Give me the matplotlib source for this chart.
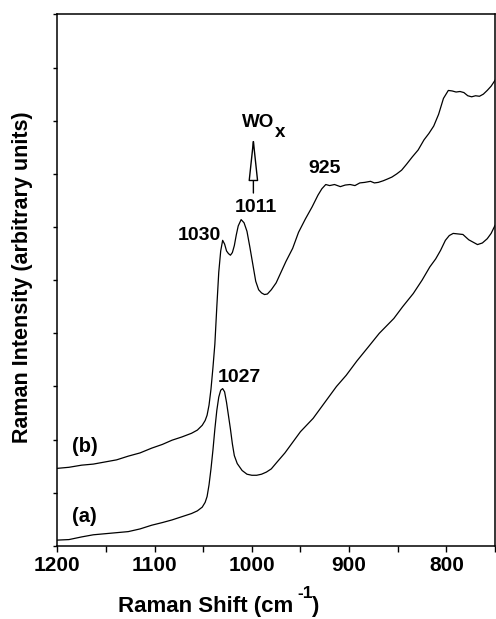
import matplotlib
matplotlib.use("Agg")
import matplotlib.pyplot as plt
from matplotlib.ticker import MultipleLocator, NullFormatter

# Raman spectra, curve (a) lower and curve (b) upper, arbitrary units
a_shift = [1200, 1188, 1175, 1163, 1151, 1139, 1127, 1115, 1103, 1092, 1082, 1072, 1062,
           1056, 1051, 1048, 1046, 1044, 1042, 1040, 1038, 1036, 1034, 1032, 1030, 1028,
           1026, 1024, 1022, 1020, 1018, 1015, 1010, 1005, 1000, 995, 990, 985, 980, 974,
           966, 958, 950, 937, 925, 913, 903, 892, 880, 869, 854, 845, 834, 825, 817, 811,
           806, 801, 797, 793, 788, 783, 777, 773, 768, 763, 758, 754, 750]
a_int = [0.11, 0.12, 0.17, 0.21, 0.23, 0.25, 0.27, 0.32, 0.39, 0.44, 0.49, 0.55, 0.61,
         0.66, 0.73, 0.82, 0.93, 1.15, 1.45, 1.80, 2.20, 2.55, 2.80, 2.93, 2.96, 2.90,
         2.70, 2.45, 2.20, 1.92, 1.70, 1.55, 1.42, 1.35, 1.33, 1.33, 1.35, 1.39, 1.45, 1.58,
         1.75, 1.95, 2.15, 2.40, 2.70, 3.00, 3.21, 3.48, 3.75, 4.00, 4.28, 4.50, 4.75, 5.00,
         5.25, 5.40, 5.56, 5.75, 5.84, 5.88, 5.87, 5.86, 5.76, 5.72, 5.67, 5.70, 5.78, 5.88, 6.03]

b_shift = [1200, 1188, 1175, 1163, 1151, 1139, 1127, 1115, 1103, 1092, 1082, 1072, 1062,
           1056, 1051, 1048, 1046, 1044, 1042, 1040, 1038, 1036, 1034, 1032, 1030, 1028,
           1026, 1024, 1022, 1020, 1018, 1016, 1014, 1011, 1008, 1005, 1002, 999, 996, 993,
           990, 987, 984, 980, 975, 970, 965, 958, 952, 945, 938, 932, 928, 924, 920, 915,
           909, 904, 899, 894, 889, 884, 878, 874, 870, 865, 861, 856, 851, 846, 841, 835,
           829, 823, 818, 813, 808, 803, 798, 794, 790, 786, 782, 778, 774, 770, 766, 762,
           758, 754, 750]
b_int = [1.46, 1.48, 1.52, 1.54, 1.58, 1.62, 1.69, 1.75, 1.84, 1.91, 1.99, 2.05, 2.12,
         2.18, 2.27, 2.36, 2.46, 2.65, 2.95, 3.35, 3.80, 4.50, 5.15, 5.55, 5.75, 5.68,
         5.55, 5.50, 5.47, 5.52, 5.65, 5.85, 6.02, 6.14, 6.08, 5.92, 5.62, 5.30, 4.98, 4.82,
         4.76, 4.73, 4.74, 4.82, 4.95, 5.15, 5.35, 5.60, 5.90, 6.15, 6.38, 6.60, 6.72, 6.80,
         6.78, 6.80, 6.76, 6.79, 6.80, 6.78, 6.83, 6.84, 6.86, 6.83, 6.84, 6.87, 6.90, 6.94,
         7.00, 7.07, 7.18, 7.32, 7.45, 7.64, 7.76, 7.90, 8.12, 8.42, 8.57, 8.56, 8.54, 8.55,
         8.53, 8.47, 8.45, 8.47, 8.46, 8.50, 8.57, 8.65, 8.76]

x_ticks = [1200, 1100, 1000, 900, 800]

# peak labels: text, x, y (baseline), alignment
peak_labels = [("1030", 1031.5, 5.76, "right"),
               ("1011", 996.0, 6.28, "center"),
               ("925", 925.0, 7.01, "center"),
               ("1027", 1013.0, 3.09, "center")]

plt.rcParams['font.family'] = ['Liberation Sans', 'DejaVu Sans']
plt.rcParams['font.weight'] = 'bold'

fig = plt.figure(figsize=(4.96, 6.19), dpi=100)
ax = fig.add_axes([0.1155, 0.118, 0.8825, 0.8587])

ax.plot(a_shift, a_int, color='black', lw=0.9)
ax.plot(b_shift, b_int, color='black', lw=0.9)

ax.set_xlim(1200, 750)
ax.set_ylim(0, 10)
ax.set_xticks(x_ticks)
ax.xaxis.set_minor_locator(MultipleLocator(50))
ax.yaxis.set_major_locator(MultipleLocator(1))
ax.yaxis.set_major_formatter(NullFormatter())
ax.tick_params(axis='x', which='both', direction='out', length=4, width=1,
               labelsize=15, pad=3)
ax.tick_params(axis='y', which='both', direction='out', length=3, width=1)
for lbl in ax.get_xticklabels():
    lbl.set_fontweight('bold')
for s in ax.spines.values():
    s.set_linewidth(1.1)

for txt, x, y, ha in peak_labels:
    ax.text(x, y, txt, ha=ha, va='baseline', fontsize=14, fontweight='bold')

ax.text(1172, 1.77, "(b)", ha='center', va='baseline', fontsize=14.5, fontweight='bold')
ax.text(1172, 0.45, "(a)", ha='center', va='baseline', fontsize=14.5, fontweight='bold')

# WO_x marker with open arrow
ax.text(1010.3, 7.89, "WO", ha='left', va='baseline', fontsize=13.5, fontweight='bold')
ax.text(976.5, 7.69, "x", ha='left', va='baseline', fontsize=13.5, fontweight='bold')
ax.annotate('', xy=(998.4, 7.73), xytext=(998.4, 6.64),
            arrowprops=dict(arrowstyle='-|>,head_length=1.4,head_width=0.15',
                            fc='white', ec='black', lw=1, mutation_scale=20,
                            shrinkA=0, shrinkB=0))

# x label in pieces so the superscript keeps its size
fig.text(293 / 496, 0.012, "Raman Shift (cm", ha='right', va='baseline',
         fontsize=16, fontweight='bold')
fig.text(297 / 496, 0.034, "-1", ha='left', va='baseline',
         fontsize=12.5, fontweight='bold')
fig.text(311 / 496, 0.012, ")", ha='left', va='baseline',
         fontsize=16, fontweight='bold')
fig.text(0.045, 0.553, "Raman Intensity (arbitrary units)", rotation=90,
         ha='center', va='center', fontsize=15.5, fontweight='bold')

fig.savefig("out.png", dpi=100)
